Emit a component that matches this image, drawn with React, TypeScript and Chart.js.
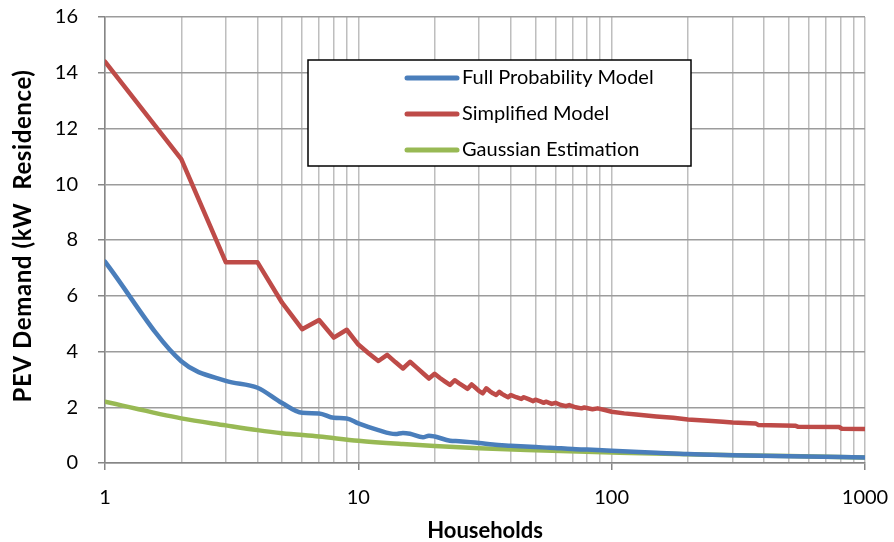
import { useEffect, useRef } from "react";
import { Chart, registerables } from "chart.js";

Chart.register(...registerables);

// Number of households on the x axis (log scale)
const xTickValues = [
  1, 2, 3, 4, 5, 6, 7, 8, 9,
  10, 20, 30, 40, 50, 60, 70, 80, 90,
  100, 200, 300, 400, 500, 600, 700, 800, 900, 1000,
];
const xLabeledTicks = [1, 10, 100, 1000];

const yAxisTitle = "PEV Demand (kW  Residence)";

// Full Probability Model
const fullHouseholds = [
  1, 2, 3, 4, 5, 6, 7, 8, 9, 10, 12, 14, 15, 16, 18, 19, 20, 23, 25, 30, 34,
  40, 50, 57, 70, 80, 100, 150, 200, 300, 500, 1000,
];
const fullDemand = [
  7.22, 3.65, 2.95, 2.7, 2.15, 1.8, 1.78, 1.62, 1.6, 1.42, 1.18, 1.04, 1.08,
  1.05, 0.92, 0.98, 0.95, 0.8, 0.78, 0.72, 0.66, 0.62, 0.57, 0.55, 0.5, 0.48,
  0.44, 0.37, 0.32, 0.28, 0.24, 0.2,
];

// Simplified Model
const simpleHouseholds = [
  1, 2, 3, 4, 5, 6, 7, 8, 9, 10, 11, 12, 13, 14, 15, 16, 17, 18, 19, 20, 21,
  22, 23, 24, 25, 26, 27, 28, 29, 30, 31, 32, 33, 34, 35, 36, 37, 38, 39, 40,
  42, 44, 45, 47, 49, 50, 52, 54, 55, 58, 60, 63, 66, 68, 72, 76, 78, 84, 88,
  94, 100, 112, 125, 150, 175, 200, 240, 275, 300, 370, 380, 530, 545, 790,
  810, 1000,
];
const simpleDemand = [
  14.4, 10.9, 7.2, 7.2, 5.75, 4.8, 5.13, 4.5, 4.78, 4.25, 3.93, 3.66, 3.88,
  3.62, 3.39, 3.63, 3.42, 3.22, 3.03, 3.2, 3.05, 2.92, 2.8, 2.97, 2.86, 2.76,
  2.66, 2.82, 2.7, 2.58, 2.5, 2.68, 2.58, 2.5, 2.44, 2.55, 2.47, 2.41, 2.36,
  2.44, 2.36, 2.3, 2.36, 2.29, 2.22, 2.27, 2.22, 2.16, 2.2, 2.12, 2.16, 2.08,
  2.04, 2.08, 2.0, 1.96, 1.99, 1.93, 1.96, 1.9, 1.84, 1.78, 1.74, 1.67, 1.62,
  1.56, 1.52, 1.48, 1.45, 1.42, 1.36, 1.34, 1.3, 1.29, 1.23, 1.22,
];

// Gaussian Estimation
const gaussHouseholds = [
  1, 2, 3, 4, 5, 7, 10, 15, 20, 30, 50, 100, 200, 500, 1000,
];
const gaussDemand = [
  2.2, 1.6, 1.35, 1.18, 1.07, 0.95, 0.8, 0.68, 0.61, 0.53, 0.46, 0.38, 0.31,
  0.25, 0.2,
];

const FONT = "Lato, 'Open Sans', sans-serif";

const toPoints = (xs: number[], ys: number[]) =>
  xs.map((x, i) => ({ x, y: ys[i] }));

const isPowerOfTen = (v: number) =>
  Math.abs(Math.log10(v) - Math.round(Math.log10(v))) < 1e-9;

// Boxed legend inside the plot area, plus the rotated y-axis title
const insetLegend = {
  id: "insetLegend",
  afterDraw(chart: any) {
    const { ctx, chartArea } = chart;
    const left = 308;
    const top = 60;
    const width = 383;
    const height = 106;
    ctx.save();
    ctx.fillStyle = "#ffffff";
    ctx.fillRect(left, top, width, height);
    ctx.lineWidth = 1.5;
    ctx.strokeStyle = "#000000";
    ctx.strokeRect(left, top, width, height);
    chart.data.datasets.forEach((ds: any, i: number) => {
      const y = top + 18 + i * 36;
      ctx.beginPath();
      ctx.lineCap = "round";
      ctx.lineWidth = 5;
      ctx.strokeStyle = ds.borderColor;
      ctx.moveTo(407, y);
      ctx.lineTo(457, y);
      ctx.stroke();
      ctx.fillStyle = "#000000";
      ctx.font = `20px ${FONT}`;
      ctx.textBaseline = "middle";
      ctx.textAlign = "left";
      ctx.fillText(ds.label, 462, y);
    });
    ctx.restore();

    ctx.save();
    ctx.translate(23, (chartArea.top + chartArea.bottom) / 2 - 4);
    ctx.rotate(-Math.PI / 2);
    ctx.fillStyle = "#000000";
    ctx.font = `bold 24px ${FONT}`;
    (ctx as any).letterSpacing = "0.6px";
    ctx.textAlign = "center";
    ctx.textBaseline = "middle";
    ctx.fillText(yAxisTitle, 0, 0);
    ctx.restore();
  },
};

export default function App() {
  const canvasRef = useRef<HTMLCanvasElement | null>(null);

  useEffect(() => {
    if (!canvasRef.current) return;
    const chart = new Chart(canvasRef.current, {
      type: "line",
      data: {
        datasets: [
          {
            label: "Full Probability Model",
            data: toPoints(fullHouseholds, fullDemand),
            borderColor: "#4A7EBB",
            backgroundColor: "#4A7EBB",
            cubicInterpolationMode: "monotone",
          },
          {
            label: "Simplified Model",
            data: toPoints(simpleHouseholds, simpleDemand),
            borderColor: "#BE4B48",
            backgroundColor: "#BE4B48",
          },
          {
            label: "Gaussian Estimation",
            data: toPoints(gaussHouseholds, gaussDemand),
            borderColor: "#98B954",
            backgroundColor: "#98B954",
            cubicInterpolationMode: "monotone",
          },
        ],
      },
      options: {
        animation: false,
        responsive: true,
        maintainAspectRatio: false,
        layout: { padding: { left: 0, top: 17, right: 29, bottom: 0 } },
        elements: {
          point: { radius: 0, hoverRadius: 0 },
          line: {
            borderWidth: 4.5,
            tension: 0,
            borderCapStyle: "round",
            borderJoinStyle: "round",
          },
        },
        plugins: {
          legend: { display: false },
          tooltip: { enabled: false },
        },
        scales: {
          x: {
            type: "logarithmic",
            min: 1,
            max: 1000,
            afterBuildTicks: (scale: any) => {
              scale.ticks = xTickValues.map((v) => ({
                value: v,
                major: isPowerOfTen(v),
              }));
            },
            afterFit: (scale: any) => {
              scale.height = 79;
              scale.paddingLeft = 0;
              scale.paddingRight = 0;
            },
            ticks: {
              autoSkip: false,
              maxRotation: 0,
              minRotation: 0,
              padding: 16,
              color: "#000000",
              font: { family: FONT, size: 20 },
              callback: (v: any) =>
                xLabeledTicks.includes(Number(v)) ? String(v) : "",
            },
            grid: {
              color: "#BEBEBE",
              lineWidth: 1.5,
              tickLength: 7,
              tickColor: (ctx: any) =>
                ctx.tick && isPowerOfTen(ctx.tick.value)
                  ? "#868686"
                  : "rgba(0,0,0,0)",
            },
            border: { color: "#868686", width: 1.5 },
            title: {
              display: true,
              text: "Households",
              color: "#000000",
              font: { family: FONT, size: 22, weight: "bold" },
              padding: { top: 0, bottom: -2 },
            },
          },
          y: {
            min: 0,
            max: 16,
            afterFit: (scale: any) => {
              scale.width = 105;
              scale.paddingTop = 0;
              scale.paddingBottom = 0;
            },
            ticks: {
              stepSize: 2,
              padding: 20,
              color: "#000000",
              font: { family: FONT, size: 20 },
            },
            grid: {
              color: "#9C9C9C",
              lineWidth: 1.5,
              tickLength: 7,
              tickColor: "#868686",
            },
            border: { color: "#868686", width: 1.5 },
          },
        },
      },
      plugins: [insetLegend],
    });
    return () => chart.destroy();
  }, []);

  return (
    <div
      style={{
        position: "absolute",
        left: 0,
        top: 0,
        width: 894,
        height: 542,
        background: "#ffffff",
      }}
    >
      <canvas ref={canvasRef} />
    </div>
  );
}
